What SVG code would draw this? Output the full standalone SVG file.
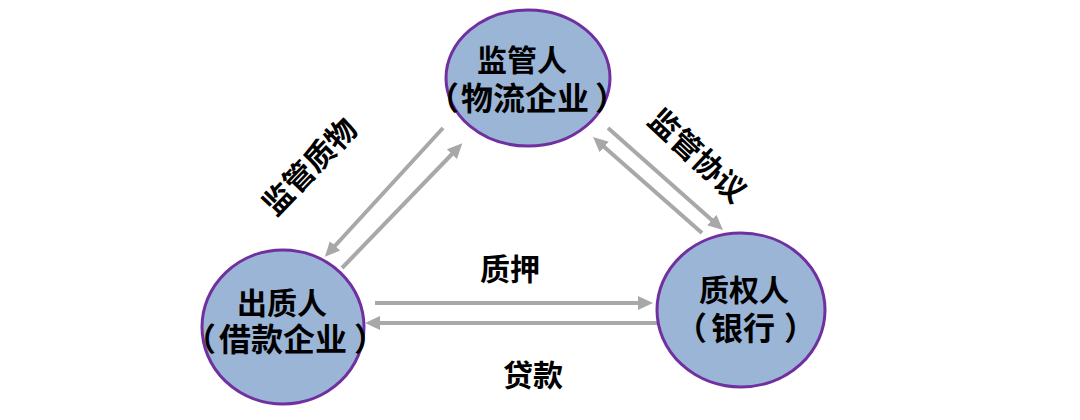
<svg xmlns="http://www.w3.org/2000/svg" width="1080" height="420" viewBox="0 0 1080 420">
<style>
.node{fill:#9bb5d6;stroke:#7030a0;stroke-width:3}
.t{font-family:"Noto Sans CJK SC","Noto Sans",sans-serif;font-weight:700;fill:#000;text-anchor:middle}
.s{font-family:"Noto Sans CJK SC","Noto Sans",sans-serif;font-weight:700;fill:#000;text-anchor:start;font-size:32px}
.a{stroke:#a8a8a8;stroke-width:4;fill:none;marker-end:url(#ah)}
</style>
<defs>
<marker id="ah" markerUnits="userSpaceOnUse" markerWidth="16" markerHeight="16" viewBox="0 0 16 16" refX="3" refY="8" orient="auto">
<path d="M0,1 L15,8 L0,15 z" fill="#a8a8a8"/>
</marker>
</defs>
<rect width="1080" height="420" fill="#fff"/>
<g id="connectors">
<line class="a" x1="375" y1="303" x2="641" y2="303"/>
<line class="a" x1="657" y1="323" x2="377" y2="323"/>
<line class="a" x1="443" y1="128" x2="333" y2="248"/>
<line class="a" x1="342" y1="268" x2="454" y2="152"/>
<line class="a" x1="608" y1="128" x2="714" y2="222"/>
<line class="a" x1="702" y1="233" x2="602" y2="145"/>
<text class="t" font-size="30" x="510" y="280">质押</text>
<text class="t" font-size="30" x="533" y="386">贷款</text>
<text class="t" font-size="30" dominant-baseline="central" transform="translate(308,165) rotate(-46)">监管质物</text>
<text class="t" font-size="30" dominant-baseline="central" transform="translate(699,154) rotate(43)">监管协议</text>
</g>
<g id="supervisor">
<ellipse class="node" cx="528" cy="78" rx="82" ry="68"/>
<text class="t" font-size="30" x="522" y="71">监管人</text>
<text class="s" y="110"><tspan x="427">（</tspan><tspan x="461">物流企业</tspan><tspan x="595">）</tspan></text>
</g>
<g id="pledgor">
<ellipse class="node" cx="283" cy="327" rx="81" ry="77"/>
<text class="t" font-size="30" x="282" y="314">出质人</text>
<text class="s" y="351"><tspan x="184">（</tspan><tspan x="219">借款企业</tspan><tspan x="354">）</tspan></text>
</g>
<g id="pledgee">
<ellipse class="node" cx="741" cy="310" rx="84" ry="77"/>
<text class="t" font-size="30" x="744" y="301">质权人</text>
<text class="s" y="340"><tspan x="675">（</tspan><tspan x="711">银行</tspan><tspan x="784">）</tspan></text>
</g>
</svg>
